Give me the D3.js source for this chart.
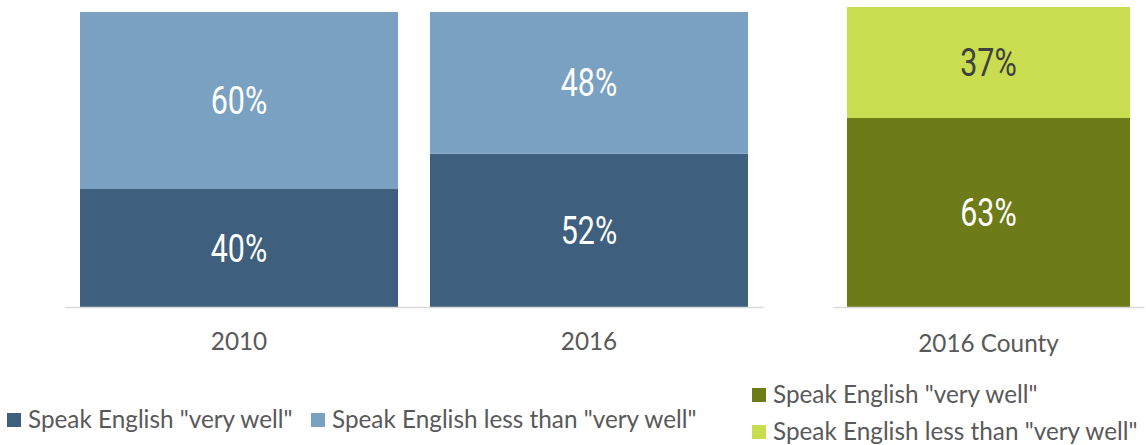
<!DOCTYPE html>
<html>
<head>
<meta charset="utf-8">
<script src="https://cdn.jsdelivr.net/npm/d3@7"></script>
<style>
  html, body { margin: 0; padding: 0; background: #fff; }
  svg { display: block; }
</style>
</head>
<body>
<svg id="chart" width="1146" height="445"></svg>
<script>
// ---- data ----
const categoriesCity = ["2010", "2016"];
const veryWellCity = [0.40, 0.52];
const lessThanCity = [0.60, 0.48];

const categoriesCounty = ["2016 County"];
const veryWellCounty = [0.63];
const lessThanCounty = [0.37];

const seriesNames = ['Speak English "very well"', 'Speak English less than "very well"'];

// ---- styles ----
const colors = {
  cityDark: "#3E5F7E",
  cityLight: "#7AA1C2",
  countyDark: "#6E7B19",
  countyLight: "#CADD51"
};
const valueFont = "Roboto, 'Noto Sans', sans-serif";
const textFont = "Lato, 'Open Sans', sans-serif";
const textSize = 24.3;
const valueScaleX = 0.8;

const svg = d3.select("#chart");

function valueLabel(sel, xf, yf, color, tf) {
  sel.attr("transform", d => `translate(${xf(d)},${yf(d)}) scale(${valueScaleX},1)`)
    .attr("dy", "0.36em")
    .attr("text-anchor", "middle")
    .attr("font-family", valueFont).attr("font-size", 38)
    .attr("fill", color)
    .text(tf);
}

function drawPanel(cfg) {
  const x = d3.scaleBand().domain(cfg.categories).range(cfg.xRange)
    .paddingInner(cfg.paddingInner).paddingOuter(cfg.paddingOuter);
  const y = d3.scaleLinear().domain([0, 1]).range(cfg.yRange);
  const g = svg.append("g");

  const stackData = cfg.categories.map((c, i) => ({ cat: c, low: cfg.low[i], high: cfg.high[i] }));

  g.selectAll("rect.low").data(stackData).join("rect")
    .attr("class", "low")
    .attr("x", d => x(d.cat)).attr("width", x.bandwidth())
    .attr("y", d => y(d.low)).attr("height", d => y(0) - y(d.low))
    .attr("fill", cfg.lowColor);
  g.selectAll("rect.high").data(stackData).join("rect")
    .attr("class", "high")
    .attr("x", d => x(d.cat)).attr("width", x.bandwidth())
    .attr("y", d => y(d.low + d.high)).attr("height", d => y(d.low) - y(d.low + d.high))
    .attr("fill", cfg.highColor);

  g.selectAll("text.lowlab").data(stackData).join("text").attr("class", "lowlab")
    .call(valueLabel, d => x(d.cat) + x.bandwidth() / 2, d => (y(0) + y(d.low)) / 2,
      "#ffffff", d => Math.round(d.low * 100) + "%");
  g.selectAll("text.highlab").data(stackData).join("text").attr("class", "highlab")
    .call(valueLabel, d => x(d.cat) + x.bandwidth() / 2, d => (y(d.low) + y(d.low + d.high)) / 2,
      cfg.highLabelColor, d => Math.round(d.high * 100) + "%");

  const axis = d3.axisBottom(x).tickSize(0);
  const ax = g.append("g").attr("transform", `translate(0,${y(0)})`).call(axis);
  ax.select(".domain").attr("stroke", "#D9D9D9").attr("stroke-width", 1.5);
  ax.selectAll(".tick text")
    .attr("y", cfg.labelOffset).attr("dy", 0)
    .attr("font-family", textFont).attr("font-size", textSize).attr("fill", "#595959");
  return g;
}

drawPanel({
  categories: categoriesCity, low: veryWellCity, high: lessThanCity,
  xRange: [65, 763], yRange: [307, 12], paddingInner: 32 / 350, paddingOuter: 15 / 350,
  lowColor: colors.cityDark, highColor: colors.cityLight, highLabelColor: "#ffffff",
  labelOffset: 43
});

drawPanel({
  categories: categoriesCounty, low: veryWellCounty, high: lessThanCounty,
  xRange: [833, 1144], yRange: [307, 7], paddingInner: 0.05, paddingOuter: 14 / 297.9,
  lowColor: colors.countyDark, highColor: colors.countyLight, highLabelColor: "#404040",
  labelOffset: 45
});

function legendItem(xp, yCenter, color, label) {
  const g = svg.append("g").attr("transform", `translate(${xp},${yCenter})`);
  g.append("rect").attr("x", 0).attr("y", -7).attr("width", 14).attr("height", 14).attr("fill", color);
  g.append("text").attr("x", 21).attr("y", 8)
    .attr("font-family", textFont).attr("font-size", textSize).attr("fill", "#595959")
    .text(label);
}
legendItem(7, 420, colors.cityDark, seriesNames[0]);
legendItem(311, 420, colors.cityLight, seriesNames[1]);
legendItem(752, 395, colors.countyDark, seriesNames[0]);
legendItem(752, 432, colors.countyLight, seriesNames[1]);
</script>
</body>
</html>
